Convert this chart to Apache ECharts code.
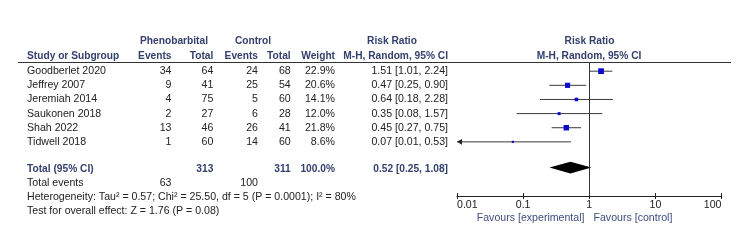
<!DOCTYPE html>
<html>
<head>
<meta charset="utf-8">
<script src="https://cdn.jsdelivr.net/npm/echarts@6/dist/echarts.min.js"></script>
<style>
  html, body { margin: 0; padding: 0; background: #fff; }
  #main { width: 750px; height: 241px; }
</style>
</head>
<body>
<div id="main"></div>
<script>
  // study level data
  const studies = ['Goodberlet 2020', 'Jeffrey 2007', 'Jeremiah 2014', 'Saukonen 2018', 'Shah 2022', 'Tidwell 2018']
  const phenoEvents = [34, 9, 4, 2, 13, 1]
  const phenoTotal = [64, 41, 75, 27, 46, 60]
  const ctrlEvents = [24, 25, 5, 6, 26, 14]
  const ctrlTotal = [68, 54, 60, 28, 41, 60]
  const weights = [22.9, 20.6, 14.1, 12.0, 21.8, 8.6]
  const riskRatio = [1.51, 0.47, 0.64, 0.35, 0.45, 0.07]
  const ciLower = [1.01, 0.25, 0.18, 0.08, 0.27, 0.01]
  const ciUpper = [2.24, 0.90, 2.28, 1.57, 0.75, 0.53]

  // pooled
  const totalPheno = 313
  const totalCtrl = 311
  const totalWeight = 100.0
  const totalRR = 0.52
  const totalLower = 0.25
  const totalUpper = 1.08
  const totalEventsPheno = 63
  const totalEventsCtrl = 100
  const heterogeneity = 'Heterogeneity: Tau² = 0.57; Chi² = 25.50, df = 5 (P = 0.0001); I² = 80%'
  const overallTest = 'Test for overall effect: Z = 1.76 (P = 0.08)'

  const xTicks = [0.01, 0.1, 1, 10, 100]
  const favours = ['Favours [experimental]', 'Favours [control]']

  const FONT = 'Arial, "Liberation Sans", sans-serif'
  const headColor = '#34406e'
  const textColor = '#222'
  const fs = 10.6

  // column anchors (px)
  const col = { name: 27, pEv: 171.5, pTot: 213.3, cEv: 258, cTot: 290.7, weight: 335, ci: 448 }
  const totalRow = 6.9

  const fmt2 = v => v.toFixed(2)
  const ciText = (r, l, u) => fmt2(r) + ' [' + fmt2(l) + ', ' + fmt2(u) + ']'

  function txt(text, x, y, align, bold, color) {
    return {
      type: 'text',
      style: {
        text: String(text), x: x, y: y, align: align, verticalAlign: 'middle',
        fontFamily: FONT, fontSize: bold ? 10.2 : fs, fontWeight: bold ? 'bold' : 'normal',
        fill: color || textColor
      }
    }
  }

  const chart = echarts.init(document.getElementById('main'), null, { renderer: 'canvas' })

  const tableRows = studies.map((s, i) => [1, i])
  const ciData = studies.map((s, i) => [riskRatio[i], ciLower[i], ciUpper[i], i, weights[i]])

  chart.setOption({
    backgroundColor: '#fff',
    animation: false,
    grid: { left: 457, width: 264.5, top: 62, bottom: 45, containLabel: false },
    xAxis: [{
      type: 'log',
      logBase: 10,
      min: 0.01,
      max: 100,
      position: 'bottom',
      axisLine: { onZero: false, lineStyle: { color: '#222', width: 1 } },
      axisTick: { show: true, length: 3, lineStyle: { color: '#222' } },
      minorTick: { show: false },
      splitLine: { show: false },
      axisLabel: {
        margin: 4,
        color: textColor,
        fontFamily: FONT,
        fontSize: fs,
        alignMinLabel: 'left',
        alignMaxLabel: 'right',
        formatter: v => {
          const t = xTicks.find(k => Math.abs(Math.log10(k) - Math.log10(v)) < 1e-6)
          return t === undefined ? '' : String(t)
        }
      }
    }, {
      type: 'log',
      logBase: 10,
      min: 0.01,
      max: 100,
      position: 'bottom',
      axisLine: { show: false, onZero: false },
      axisTick: { show: true, inside: true, length: 3, lineStyle: { color: '#222' } },
      axisLabel: { show: false },
      splitLine: { show: false }
    }],
    yAxis: {
      type: 'value',
      inverse: true,
      min: -0.65,
      max: 8.83,
      show: false
    },
    graphic: [
      { type: 'line', shape: { x1: 18, y1: 62.5, x2: 731, y2: 62.5 }, style: { stroke: '#333', lineWidth: 1 } },
      txt('Phenobarbital', 174, 41.5, 'center', true, headColor),
      txt('Control', 253, 41.5, 'center', true, headColor),
      txt('Risk Ratio', 392, 41.5, 'center', true, headColor),
      txt('Risk Ratio', 589.5, 41.5, 'center', true, headColor),
      txt('Study or Subgroup', col.name, 55.7, 'left', true, headColor),
      txt('Events', col.pEv, 55.7, 'right', true, headColor),
      txt('Total', col.pTot, 55.7, 'right', true, headColor),
      txt('Events', col.cEv, 55.7, 'right', true, headColor),
      txt('Total', col.cTot, 55.7, 'right', true, headColor),
      txt('Weight', col.weight, 55.7, 'right', true, headColor),
      txt('M-H, Random, 95% CI', col.ci, 55.7, 'right', true, headColor),
      txt('M-H, Random, 95% CI', 589, 55.7, 'center', true, headColor),
      txt(favours[0], 584.5, 217.7, 'right', false, '#3e4c7e'),
      txt(favours[1], 593.5, 217.7, 'left', false, '#3e4c7e')
    ],
    series: [
      {
        // study rows of the table
        type: 'custom',
        clip: false,
        silent: true,
        data: tableRows,
        renderItem: (params, api) => {
          const i = params.dataIndex
          const y = api.coord([1, api.value(1)])[1]
          return {
            type: 'group',
            children: [
              txt(studies[i], col.name, y, 'left'),
              txt(phenoEvents[i], col.pEv, y, 'right'),
              txt(phenoTotal[i], col.pTot, y, 'right'),
              txt(ctrlEvents[i], col.cEv, y, 'right'),
              txt(ctrlTotal[i], col.cTot, y, 'right'),
              txt(weights[i].toFixed(1) + '%', col.weight, y, 'right'),
              txt(ciText(riskRatio[i], ciLower[i], ciUpper[i]), col.ci, y, 'right')
            ]
          }
        }
      },
      {
        // pooled rows + footnotes
        type: 'custom',
        clip: false,
        silent: true,
        data: [[1, totalRow]],
        renderItem: (params, api) => {
          const y = r => api.coord([1, r])[1]
          const y0 = y(totalRow)
          return {
            type: 'group',
            children: [
              txt('Total (95% CI)', col.name, y0, 'left', true, headColor),
              txt(totalPheno, col.pTot, y0, 'right', true, headColor),
              txt(totalCtrl, col.cTot, y0, 'right', true, headColor),
              txt(totalWeight.toFixed(1) + '%', col.weight, y0, 'right', true, headColor),
              txt(ciText(totalRR, totalLower, totalUpper), col.ci, y0, 'right', true, headColor),
              txt('Total events', col.name, y(totalRow + 1), 'left'),
              txt(totalEventsPheno, col.pEv, y(totalRow + 1), 'right'),
              txt(totalEventsCtrl, col.cEv, y(totalRow + 1), 'right'),
              txt(heterogeneity, col.name, y(totalRow + 2), 'left'),
              txt(overallTest, col.name, y(totalRow + 3), 'left')
            ]
          }
        }
      },
      {
        // confidence intervals + weighted squares
        type: 'custom',
        clip: false,
        silent: true,
        data: ciData,
        renderItem: (params, api) => {
          const p = api.coord([api.value(0), api.value(3)])
          const l = api.coord([api.value(1), api.value(3)])
          const u = api.coord([api.value(2), api.value(3)])
          const side = api.value(4) * 0.25
          const children = [
            { type: 'line', shape: { x1: l[0], y1: l[1], x2: u[0], y2: u[1] }, style: { stroke: '#3a3a3a', lineWidth: 1 } },
            { type: 'rect', shape: { x: p[0] - side / 2, y: p[1] - side / 2, width: side, height: side }, style: { fill: '#0a0ad2' } }
          ]
          if (api.value(1) <= 0.01) {
            children.push({
              type: 'polygon',
              shape: { points: [[l[0], l[1]], [l[0] + 5, l[1] - 2.8], [l[0] + 5, l[1] + 2.8]] },
              style: { fill: '#222' }
            })
          }
          return { type: 'group', children: children }
        },
        markLine: {
          silent: true,
          symbol: 'none',
          label: { show: false },
          lineStyle: { color: '#333', width: 1, type: 'solid' },
          data: [{ xAxis: 1 }]
        }
      },
      {
        // pooled diamond
        type: 'custom',
        clip: false,
        silent: true,
        data: [[totalRR, totalLower, totalUpper, totalRow - 0.08]],
        renderItem: (params, api) => {
          const row = api.value(3)
          const c = api.coord([api.value(0), row])
          const l = api.coord([api.value(1), row])
          const u = api.coord([api.value(2), row])
          const h = 5.8
          return {
            type: 'polygon',
            shape: { points: [[l[0], c[1]], [c[0], c[1] - h], [u[0], c[1]], [c[0], c[1] + h]] },
            style: { fill: '#000' }
          }
        }
      }
    ]
  })
</script>
</body>
</html>
